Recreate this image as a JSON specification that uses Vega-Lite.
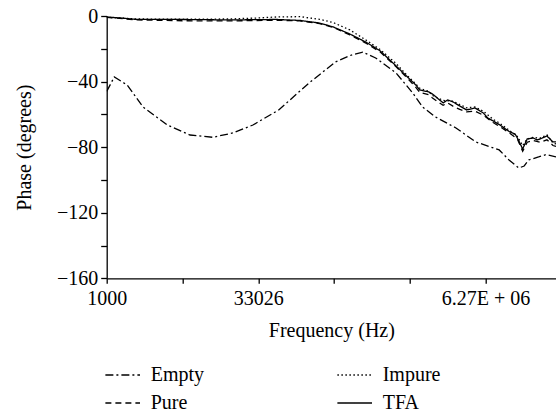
{
  "$schema": "https://vega.github.io/schema/vega-lite/v6.json",
  "width": 449.3,
  "height": 262.3,
  "autosize": {"type": "none"},
  "padding": {"left": 106.7, "top": 16, "right": 0, "bottom": 137.7},
  "background": "white",
  "config": {"view": {"stroke": null}, "font": "Liberation Serif"},
  "data": {
    "values": [
      {"series": "TFA", "pos": 0.00, "phase": -0.6},
      {"series": "TFA", "pos": 0.18, "phase": -1.2},
      {"series": "TFA", "pos": 0.40, "phase": -2.1},
      {"series": "TFA", "pos": 0.97, "phase": -2.1},
      {"series": "TFA", "pos": 1.63, "phase": -2.4},
      {"series": "TFA", "pos": 2.24, "phase": -2.1},
      {"series": "TFA", "pos": 2.55, "phase": -2.7},
      {"series": "TFA", "pos": 2.81, "phase": -4.3},
      {"series": "TFA", "pos": 2.99, "phase": -6.7},
      {"series": "TFA", "pos": 3.21, "phase": -11.0},
      {"series": "TFA", "pos": 3.42, "phase": -15.9},
      {"series": "TFA", "pos": 3.61, "phase": -21.3},
      {"series": "TFA", "pos": 3.82, "phase": -30.5},
      {"series": "TFA", "pos": 3.97, "phase": -37.2},
      {"series": "TFA", "pos": 4.08, "phase": -42.1},
      {"series": "TFA", "pos": 4.13, "phase": -45.1},
      {"series": "TFA", "pos": 4.25, "phase": -46.3},
      {"series": "TFA", "pos": 4.30, "phase": -47.6},
      {"series": "TFA", "pos": 4.44, "phase": -53.0},
      {"series": "TFA", "pos": 4.50, "phase": -51.2},
      {"series": "TFA", "pos": 4.57, "phase": -52.4},
      {"series": "TFA", "pos": 4.66, "phase": -54.9},
      {"series": "TFA", "pos": 4.75, "phase": -57.3},
      {"series": "TFA", "pos": 4.86, "phase": -56.1},
      {"series": "TFA", "pos": 4.97, "phase": -59.1},
      {"series": "TFA", "pos": 5.03, "phase": -62.2},
      {"series": "TFA", "pos": 5.10, "phase": -64.0},
      {"series": "TFA", "pos": 5.19, "phase": -66.5},
      {"series": "TFA", "pos": 5.32, "phase": -70.7},
      {"series": "TFA", "pos": 5.39, "phase": -72.0},
      {"series": "TFA", "pos": 5.42, "phase": -74.4},
      {"series": "TFA", "pos": 5.49, "phase": -81.1},
      {"series": "TFA", "pos": 5.55, "phase": -75.0},
      {"series": "TFA", "pos": 5.63, "phase": -74.4},
      {"series": "TFA", "pos": 5.68, "phase": -75.6},
      {"series": "TFA", "pos": 5.72, "phase": -75.0},
      {"series": "TFA", "pos": 5.81, "phase": -73.2},
      {"series": "TFA", "pos": 5.89, "phase": -76.8},
      {"series": "TFA", "pos": 5.93, "phase": -76.8},

      {"series": "Pure", "pos": 0.00, "phase": -0.8},
      {"series": "Pure", "pos": 0.40, "phase": -2.4},
      {"series": "Pure", "pos": 1.00, "phase": -2.9},
      {"series": "Pure", "pos": 1.63, "phase": -3.0},
      {"series": "Pure", "pos": 2.24, "phase": -2.6},
      {"series": "Pure", "pos": 2.55, "phase": -3.0},
      {"series": "Pure", "pos": 2.81, "phase": -4.6},
      {"series": "Pure", "pos": 2.99, "phase": -7.0},
      {"series": "Pure", "pos": 3.21, "phase": -11.5},
      {"series": "Pure", "pos": 3.42, "phase": -16.5},
      {"series": "Pure", "pos": 3.61, "phase": -22.0},
      {"series": "Pure", "pos": 3.82, "phase": -31.0},
      {"series": "Pure", "pos": 3.97, "phase": -38.0},
      {"series": "Pure", "pos": 4.08, "phase": -43.5},
      {"series": "Pure", "pos": 4.13, "phase": -46.5},
      {"series": "Pure", "pos": 4.25, "phase": -48.0},
      {"series": "Pure", "pos": 4.30, "phase": -50.0},
      {"series": "Pure", "pos": 4.44, "phase": -54.5},
      {"series": "Pure", "pos": 4.50, "phase": -53.0},
      {"series": "Pure", "pos": 4.57, "phase": -55.0},
      {"series": "Pure", "pos": 4.66, "phase": -57.0},
      {"series": "Pure", "pos": 4.75, "phase": -58.5},
      {"series": "Pure", "pos": 4.86, "phase": -58.0},
      {"series": "Pure", "pos": 4.97, "phase": -60.5},
      {"series": "Pure", "pos": 5.10, "phase": -65.0},
      {"series": "Pure", "pos": 5.19, "phase": -67.5},
      {"series": "Pure", "pos": 5.32, "phase": -71.5},
      {"series": "Pure", "pos": 5.42, "phase": -75.0},
      {"series": "Pure", "pos": 5.49, "phase": -82.5},
      {"series": "Pure", "pos": 5.55, "phase": -77.0},
      {"series": "Pure", "pos": 5.63, "phase": -76.0},
      {"series": "Pure", "pos": 5.72, "phase": -77.0},
      {"series": "Pure", "pos": 5.81, "phase": -75.5},
      {"series": "Pure", "pos": 5.89, "phase": -79.0},
      {"series": "Pure", "pos": 5.93, "phase": -79.5},

      {"series": "Impure", "pos": 0.00, "phase": -0.8},
      {"series": "Impure", "pos": 0.40, "phase": -1.8},
      {"series": "Impure", "pos": 1.00, "phase": -2.0},
      {"series": "Impure", "pos": 1.63, "phase": -1.8},
      {"series": "Impure", "pos": 2.00, "phase": -1.2},
      {"series": "Impure", "pos": 2.24, "phase": -0.6},
      {"series": "Impure", "pos": 2.55, "phase": -0.4},
      {"series": "Impure", "pos": 2.81, "phase": -2.0},
      {"series": "Impure", "pos": 2.99, "phase": -4.0},
      {"series": "Impure", "pos": 3.21, "phase": -8.5},
      {"series": "Impure", "pos": 3.42, "phase": -14.6},
      {"series": "Impure", "pos": 3.61, "phase": -20.5},
      {"series": "Impure", "pos": 3.82, "phase": -29.0},
      {"series": "Impure", "pos": 3.97, "phase": -36.5},
      {"series": "Impure", "pos": 4.08, "phase": -41.5},
      {"series": "Impure", "pos": 4.13, "phase": -44.0},
      {"series": "Impure", "pos": 4.25, "phase": -46.0},
      {"series": "Impure", "pos": 4.30, "phase": -48.5},
      {"series": "Impure", "pos": 4.44, "phase": -51.5},
      {"series": "Impure", "pos": 4.57, "phase": -52.0},
      {"series": "Impure", "pos": 4.66, "phase": -54.0},
      {"series": "Impure", "pos": 4.75, "phase": -56.0},
      {"series": "Impure", "pos": 4.86, "phase": -55.5},
      {"series": "Impure", "pos": 4.97, "phase": -58.0},
      {"series": "Impure", "pos": 5.10, "phase": -63.0},
      {"series": "Impure", "pos": 5.19, "phase": -65.5},
      {"series": "Impure", "pos": 5.32, "phase": -70.0},
      {"series": "Impure", "pos": 5.42, "phase": -73.5},
      {"series": "Impure", "pos": 5.49, "phase": -79.0},
      {"series": "Impure", "pos": 5.55, "phase": -75.0},
      {"series": "Impure", "pos": 5.63, "phase": -74.0},
      {"series": "Impure", "pos": 5.72, "phase": -74.5},
      {"series": "Impure", "pos": 5.81, "phase": -72.5},
      {"series": "Impure", "pos": 5.89, "phase": -77.5},
      {"series": "Impure", "pos": 5.93, "phase": -78.0},

      {"series": "Empty", "pos": 0.00, "phase": -46.0},
      {"series": "Empty", "pos": 0.10, "phase": -37.2},
      {"series": "Empty", "pos": 0.27, "phase": -42.1},
      {"series": "Empty", "pos": 0.48, "phase": -55.5},
      {"series": "Empty", "pos": 0.80, "phase": -66.5},
      {"series": "Empty", "pos": 1.10, "phase": -72.6},
      {"series": "Empty", "pos": 1.40, "phase": -74.0},
      {"series": "Empty", "pos": 1.67, "phase": -71.3},
      {"series": "Empty", "pos": 1.93, "phase": -66.5},
      {"series": "Empty", "pos": 2.27, "phase": -57.3},
      {"series": "Empty", "pos": 2.67, "phase": -40.9},
      {"series": "Empty", "pos": 3.02, "phase": -28.0},
      {"series": "Empty", "pos": 3.23, "phase": -23.8},
      {"series": "Empty", "pos": 3.38, "phase": -22.0},
      {"series": "Empty", "pos": 3.55, "phase": -25.6},
      {"series": "Empty", "pos": 3.82, "phase": -34.8},
      {"series": "Empty", "pos": 4.04, "phase": -47.0},
      {"series": "Empty", "pos": 4.17, "phase": -55.5},
      {"series": "Empty", "pos": 4.34, "phase": -61.6},
      {"series": "Empty", "pos": 4.61, "phase": -68.3},
      {"series": "Empty", "pos": 4.87, "phase": -76.8},
      {"series": "Empty", "pos": 5.18, "phase": -81.7},
      {"series": "Empty", "pos": 5.31, "phase": -87.8},
      {"series": "Empty", "pos": 5.44, "phase": -92.7},
      {"series": "Empty", "pos": 5.51, "phase": -91.5},
      {"series": "Empty", "pos": 5.57, "phase": -87.8},
      {"series": "Empty", "pos": 5.70, "phase": -86.0},
      {"series": "Empty", "pos": 5.80, "phase": -84.5},
      {"series": "Empty", "pos": 5.93, "phase": -86.0}
    ]
  },
  "mark": {"type": "line", "color": "black", "strokeWidth": 1.3, "clip": true},
  "encoding": {
    "x": {
      "field": "pos", "type": "quantitative",
      "scale": {"domain": [0, 5.93], "nice": false, "zero": false},
      "axis": {
        "values": [0, 1, 2, 3, 4, 5],
        "labelExpr": "datum.value == 0 ? '1000' : datum.value == 2 ? '33026' : datum.value == 5 ? '6.27E + 06' : ''",
        "grid": false, "domainColor": "black", "domainWidth": 1.3,
        "tickColor": "black", "tickWidth": 1.3, "tickSize": 5,
        "labelFontSize": 20, "labelColor": "black", "labelPadding": 5,
        "labelOverlap": false, "labelFlush": false,
        "title": "Frequency (Hz)", "titleFontSize": 20, "titleFontWeight": "normal",
        "titleColor": "black", "titlePadding": 12
      }
    },
    "y": {
      "field": "phase", "type": "quantitative",
      "scale": {"domain": [-160, 0], "nice": false, "zero": false},
      "axis": {
        "values": [-160, -140, -120, -100, -80, -60, -40, -20, 0],
        "labelExpr": "datum.value % 40 == 0 ? datum.label : ''",
        "grid": false, "domainColor": "black", "domainWidth": 1.3,
        "tickColor": "black", "tickWidth": 1.3, "tickSize": 6,
        "labelFontSize": 20, "labelColor": "black", "labelPadding": 3,
        "labelOverlap": false,
        "title": "Phase (degrees)", "titleFontSize": 20, "titleFontWeight": "normal",
        "titleColor": "black", "titlePadding": 22
      }
    },
    "strokeDash": {
      "field": "series", "type": "nominal",
      "scale": {"domain": ["Empty", "Impure", "Pure", "TFA"], "range": [[8, 3, 2, 3], [1.5, 2.5], [6, 4], [1, 0]]},
      "legend": {
        "orient": "none", "legendX": -2, "legendY": 341,
        "direction": "horizontal", "columns": 2, "title": null,
        "symbolType": "stroke", "symbolSize": 1200,
        "symbolStrokeColor": "black", "symbolStrokeWidth": 1.3,
        "labelFontSize": 20, "labelColor": "black", "labelOffset": 10,
        "columnPadding": 130, "rowPadding": -1
      }
    }
  }
}
